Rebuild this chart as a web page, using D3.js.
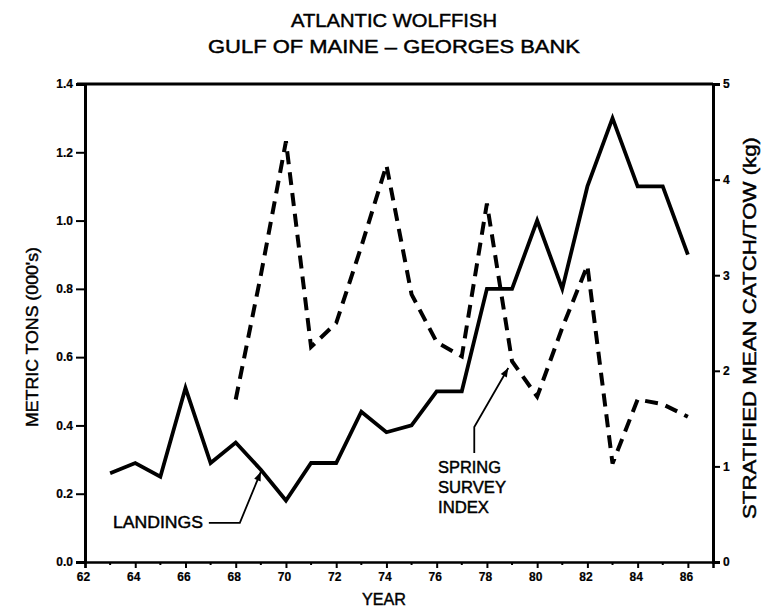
<!DOCTYPE html>
<html>
<head>
<meta charset="utf-8">
<script src="https://cdn.jsdelivr.net/npm/d3@7"></script>
<style>
  html, body { margin: 0; padding: 0; background: #fff; }
  svg { display: block; }
  text { font-family: "Liberation Sans", Arial, sans-serif; fill: #000; stroke: #000; stroke-width: 0.45px; }
  .tick text { font-weight: bold; font-size: 12px; stroke-width: 0.2px; }
</style>
</head>
<body>
<svg id="chart" width="766" height="608"></svg>
<script>
// Atlantic wolffish, Gulf of Maine – Georges Bank
const landingYears = [63, 64, 65, 66, 67, 68, 69, 70, 71, 72, 73, 74, 75, 76, 77, 78, 79, 80, 81, 82, 83, 84, 85, 86];
const landings     = [0.26, 0.29, 0.25, 0.51, 0.29, 0.35, 0.27, 0.18, 0.29, 0.29, 0.44, 0.38, 0.40, 0.50, 0.50, 0.80, 0.80, 1.00, 0.80, 1.10, 1.30, 1.10, 1.10, 0.90];

const surveyYears  = [68, 69, 70, 71, 72, 73, 74, 75, 76, 77, 78, 79, 80, 81, 82, 83, 84, 85, 86];
const surveyIndex  = [1.70, 3.00, 4.40, 2.25, 2.50, 3.30, 4.15, 2.80, 2.30, 2.15, 3.75, 2.10, 1.73, 2.45, 3.10, 1.03, 1.70, 1.65, 1.52];

const yearTicks    = [62, 64, 66, 68, 70, 72, 74, 76, 78, 80, 82, 84, 86];
const minorYears   = [63, 65, 67, 69, 71, 73, 75, 77, 79, 81, 83, 85];
const tonTicks     = [0, 0.2, 0.4, 0.6, 0.8, 1.0, 1.2, 1.4];
const catchTicks   = [0, 1, 2, 3, 4, 5];

const titleLines   = ["ATLANTIC WOLFFISH", "GULF OF MAINE \u2013 GEORGES BANK"];

const svg = d3.select("#chart");
const plotLeft = 85, plotRight = 713, plotTop = 84, plotBottom = 562;

const x  = d3.scaleLinear().domain([62, 87]).range([plotLeft, plotRight]);
const yL = d3.scaleLinear().domain([0, 1.4]).range([plotBottom, plotTop]);
const yR = d3.scaleLinear().domain([0, 5]).range([plotBottom, plotTop]);

// Title
const titleBase = [27, 53], titleLen = [206, 372];
titleLines.forEach((t, i) => {
  svg.append("text")
    .attr("x", 394).attr("y", titleBase[i])
    .attr("text-anchor", "middle")
    .attr("font-size", 19)
    .attr("textLength", titleLen[i]).attr("lengthAdjust", "spacingAndGlyphs")
    .text(t);
});

// Frame top edge
svg.append("line")
  .attr("x1", plotLeft - 8).attr("x2", plotRight)
  .attr("y1", plotTop).attr("y2", plotTop)
  .attr("stroke", "#000").attr("stroke-width", 3);

// Bottom axis (years)
const gx = svg.append("g").attr("transform", `translate(0,${plotBottom})`)
  .call(d3.axisBottom(x).tickValues(yearTicks).tickFormat(d3.format("d")).tickSizeOuter(0).tickSize(6).tickPadding(4));
gx.select(".domain").attr("stroke-width", 2.5);
gx.selectAll(".tick line").attr("stroke-width", 2);
gx.selectAll(".tick text").attr("dx", -2);
svg.append("g").selectAll("line").data(minorYears).join("line")
  .attr("x1", d => x(d)).attr("x2", d => x(d))
  .attr("y1", plotBottom).attr("y2", plotBottom + 3)
  .attr("stroke", "#000").attr("stroke-width", 2);

// Left axis (metric tons)
const gl = svg.append("g").attr("transform", `translate(${plotLeft},0)`)
  .call(d3.axisLeft(yL).tickValues(tonTicks).tickFormat(d3.format(".1f")).tickSizeOuter(0).tickSize(9).tickPadding(3));
gl.select(".domain").attr("stroke-width", 3);
gl.selectAll(".tick line").attr("stroke-width", 2);

// Right axis (catch per tow)
const gr = svg.append("g").attr("transform", `translate(${plotRight},0)`)
  .call(d3.axisRight(yR).tickValues(catchTicks).tickFormat(d3.format("d")).tickSizeOuter(0).tickSize(7).tickPadding(3));
gr.select(".domain").attr("stroke-width", 3);
gr.selectAll(".tick line").attr("stroke-width", 2);
gr.selectAll(".tick text").attr("font-size", 14);

// Axis titles
svg.append("text")
  .attr("transform", "translate(38,337) rotate(-90)")
  .attr("text-anchor", "middle").attr("font-size", 17)
  .attr("textLength", 180).attr("lengthAdjust", "spacingAndGlyphs")
  .text("METRIC TONS (000's)");
svg.append("text")
  .attr("transform", "translate(756,328) rotate(-90)")
  .attr("text-anchor", "middle").attr("font-size", 19)
  .attr("textLength", 382).attr("lengthAdjust", "spacingAndGlyphs")
  .text("STRATIFIED MEAN CATCH/TOW (kg)");
svg.append("text")
  .attr("x", 384).attr("y", 605)
  .attr("text-anchor", "middle").attr("font-size", 17)
  .attr("textLength", 44).attr("lengthAdjust", "spacingAndGlyphs")
  .text("YEAR");

// Series
const landingLine = d3.line().x(d => x(d[0])).y(d => yL(d[1]));
const surveyLine  = d3.line().x(d => x(d[0])).y(d => yR(d[1]));

svg.append("path")
  .datum(d3.zip(surveyYears, surveyIndex))
  .attr("d", surveyLine)
  .attr("fill", "none").attr("stroke", "#000")
  .attr("stroke-width", 4).attr("stroke-dasharray", "13,8");

svg.append("path")
  .datum(d3.zip(landingYears, landings))
  .attr("d", landingLine)
  .attr("fill", "none").attr("stroke", "#000")
  .attr("stroke-width", 3.8).attr("stroke-linejoin", "miter");

// Callouts
function arrowHead(tip, from) {
  const a = Math.atan2(tip[1] - from[1], tip[0] - from[0]);
  const L = 9, W = 3.5;
  const bx = tip[0] - L * Math.cos(a), by = tip[1] - L * Math.sin(a);
  const px = -Math.sin(a) * W, py = Math.cos(a) * W;
  svg.append("path")
    .attr("d", `M${tip[0]},${tip[1]}L${bx + px},${by + py}L${bx - px},${by - py}Z`)
    .attr("fill", "#000");
}

// Landings callout points at the 1969 landing value
const lTip = [x(69), yL(landings[landingYears.indexOf(69)]) + 2];
const lElbow = [lTip[0] - 21, lTip[1] + 51];
const lPts = [[lElbow[0] - 31, lElbow[1]], lElbow, lTip];
svg.append("path").attr("d", d3.line()(lPts))
  .attr("fill", "none").attr("stroke", "#000").attr("stroke-width", 1.8);
arrowHead(lTip, lElbow);
svg.append("text")
  .attr("x", 113).attr("y", 528).attr("font-size", 16)
  .attr("textLength", 90).attr("lengthAdjust", "spacingAndGlyphs")
  .text("LANDINGS");

// Survey callout points just below the 1978–79 descent
const sTip = [x(78.85), yR(2.03)];
const sElbow = [sTip[0] - 34, sTip[1] + 59];
const sPts = [[sElbow[0], sElbow[1] + 26], sElbow, sTip];
svg.append("path").attr("d", d3.line()(sPts))
  .attr("fill", "none").attr("stroke", "#000").attr("stroke-width", 1.8);
arrowHead(sTip, sElbow);
const springLabel = [["SPRING", 63], ["SURVEY", 68], ["INDEX", 51]];
springLabel.forEach((d, i) => {
  svg.append("text")
    .attr("x", 438).attr("y", 473 + i * 20).attr("font-size", 16)
    .attr("textLength", d[1]).attr("lengthAdjust", "spacingAndGlyphs")
    .text(d[0]);
});
</script>
</body>
</html>
